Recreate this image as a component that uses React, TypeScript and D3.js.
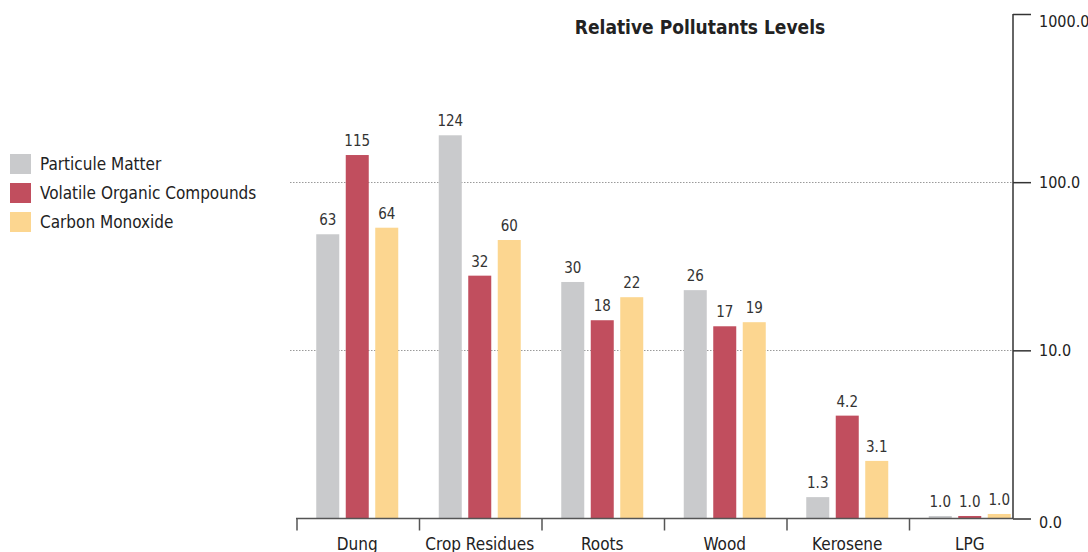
import React, { useEffect, useRef } from 'react';
import * as d3 from 'd3';

const categories = ['Dung', 'Crop Residues', 'Roots', 'Wood', 'Kerosene', 'LPG'];
const seriesNames = ['Particule Matter', 'Volatile Organic Compounds', 'Carbon Monoxide'];
const seriesColors = ['#c9cacc', '#c14e5e', '#fcd690'];

// bar heights as drawn (log scale)
const pmValues = [49, 190, 25.5, 22.8, 1.34, 1.035];
const vocValues = [145, 27.8, 15.1, 13.9, 4.09, 1.035];
const coValues = [53.6, 45.3, 20.7, 14.7, 2.2, 1.064];

// printed labels above the bars
const pmLabels = ['63', '124', '30', '26', '1.3', '1.0'];
const vocLabels = ['115', '32', '18', '17', '4.2', '1.0'];
const coLabels = ['64', '60', '22', '19', '3.1', '1.0'];

const yTicks = [1, 10, 100, 1000];
const yTickLabels = ['0.0', '10.0', '100.0', '1000.0'];

const FONT = "'Liberation Sans Narrow', 'DejaVu Sans Condensed', 'Roboto', sans-serif";

export default function App() {
  const svgRef = useRef<SVGSVGElement>(null);

  useEffect(() => {
    const svg = d3.select(svgRef.current);
    svg.selectAll('*').remove();

    const width = 1088;
    const height = 552;
    const baseY = 518.5;
    const axisX = 1013;

    const values = [pmValues, vocValues, coValues];
    const labels = [pmLabels, vocLabels, coLabels];

    const y = d3.scaleLog().domain([1, 1000]).range([baseY, 14]);
    const x0 = d3.scaleBand<string>().domain(categories).range([296, 1031]).padding(0);
    const x1 = d3.scaleBand<number>().domain([0, 1, 2]).range([0, 82]).paddingInner(0.22).paddingOuter(0);

    svg.attr('width', width).attr('height', height).style('font-family', FONT);

    // dotted grid lines
    svg.append('g')
      .selectAll('line')
      .data([10, 100])
      .enter()
      .append('line')
      .attr('x1', 290)
      .attr('x2', axisX)
      .attr('y1', d => Math.round(y(d)) + 0.5)
      .attr('y2', d => Math.round(y(d)) + 0.5)
      .attr('stroke', '#9a9a9a')
      .attr('stroke-width', 1)
      .attr('stroke-dasharray', '1.5,1.5');

    // bars
    const groups = svg.append('g')
      .selectAll('g')
      .data(categories)
      .enter()
      .append('g')
      .attr('transform', c => `translate(${x0(c)! + x0.bandwidth() / 2 - 41}, 0)`);

    [0, 1, 2].forEach(s => {
      groups.append('rect')
        .attr('x', x1(s)!)
        .attr('width', x1.bandwidth())
        .attr('y', (c, i) => y(values[s][i]))
        .attr('height', (c, i) => baseY - y(values[s][i]))
        .attr('fill', seriesColors[s]);

      groups.append('text')
        .attr('x', x1(s)! + x1.bandwidth() / 2)
        .attr('y', (c, i) => y(values[s][i]) - 9)
        .attr('text-anchor', 'middle')
        .style('font-size', '15px')
        .style('fill', '#333')
        .text((c, i) => labels[s][i]);
    });

    // baseline + category ticks
    svg.append('line')
      .attr('x1', 296)
      .attr('x2', axisX)
      .attr('y1', baseY)
      .attr('y2', baseY)
      .attr('stroke', '#555')
      .attr('stroke-width', 1.5);

    svg.append('g')
      .selectAll('line')
      .data(categories)
      .enter()
      .append('line')
      .attr('x1', c => x0(c)! + 1)
      .attr('x2', c => x0(c)! + 1)
      .attr('y1', baseY)
      .attr('y2', baseY + 12)
      .attr('stroke', '#555')
      .attr('stroke-width', 1.5);

    svg.append('g')
      .selectAll('text')
      .data(categories)
      .enter()
      .append('text')
      .attr('x', c => x0(c)! + x0.bandwidth() / 2)
      .attr('y', 550)
      .attr('text-anchor', 'middle')
      .style('font-size', '17px')
      .style('fill', '#222')
      .text(c => c);

    // right axis
    const yAxis = d3.axisRight(y)
      .tickValues(yTicks)
      .tickSize(18)
      .tickPadding(8)
      .tickFormat((d, i) => yTickLabels[i]);

    const ax = svg.append('g')
      .attr('transform', `translate(${axisX}, 0)`)
      .call(yAxis);
    ax.select('.domain').remove();
    ax.append('line')
      .attr('x1', 0)
      .attr('x2', 0)
      .attr('y1', 14)
      .attr('y2', baseY)
      .attr('stroke', '#333')
      .attr('stroke-width', 1.5);
    ax.selectAll('.tick line').attr('stroke', '#333').attr('stroke-width', 1.5);
    ax.selectAll<SVGTextElement, number>('.tick text')
      .attr('dy', d => (d === 1000 ? '0.75em' : d === 1 ? '0.55em' : '0.32em'))
      .style('font-family', FONT)
      .style('font-size', '16px')
      .style('fill', '#222');

    // title
    svg.append('text')
      .attr('x', 700)
      .attr('y', 34)
      .attr('text-anchor', 'middle')
      .style('font-size', '19px')
      .style('font-weight', 'bold')
      .style('fill', '#222')
      .text('Relative Pollutants Levels');

    // legend
    const legend = svg.append('g')
      .selectAll('g')
      .data(seriesNames)
      .enter()
      .append('g')
      .attr('transform', (d, i) => `translate(10, ${154 + i * 29})`);

    legend.append('rect')
      .attr('width', 21)
      .attr('height', 20)
      .attr('fill', (d, i) => seriesColors[i]);

    legend.append('text')
      .attr('x', 30)
      .attr('y', 10)
      .attr('dy', '0.35em')
      .style('font-size', '17px')
      .style('fill', '#222')
      .text(d => d);
  }, []);

  return (
    <svg ref={svgRef} style={{ position: 'absolute', left: 0, top: 0, display: 'block' }}></svg>
  );
}
